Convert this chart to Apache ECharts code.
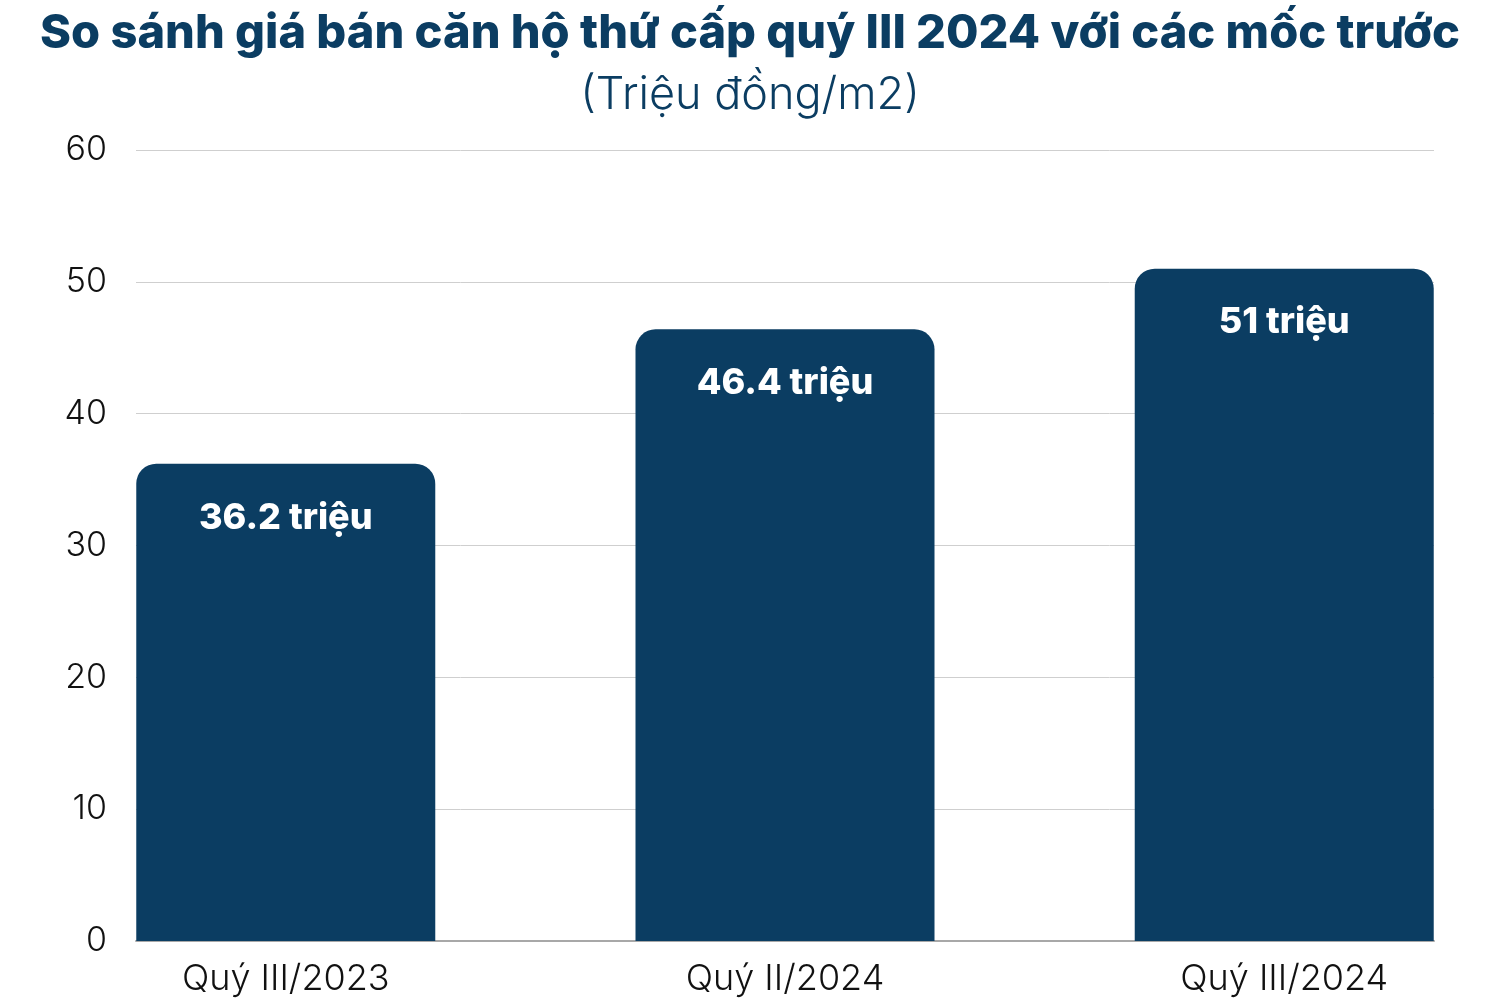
<!DOCTYPE html>
<html>
<head>
<meta charset="utf-8">
<script src="https://cdn.jsdelivr.net/npm/echarts@6/dist/echarts.min.js"></script>
<style>
  html, body { margin: 0; padding: 0; background: #fff; }
  #chart { width: 1500px; height: 1000px; }
</style>
</head>
<body>
<div id="chart"></div>
<script>
var categories = ['Quý III/2023', 'Quý II/2024', 'Quý III/2024'];
var prices = [36.2, 46.4, 51];
var priceLabels = ['36.2 triệu', '46.4 triệu', '51 triệu'];
var yTicks = [0, 10, 20, 30, 40, 50, 60];

var navy = '#0b3d62';
var chart = echarts.init(document.getElementById('chart'));

// bars sit on positions 0,1,2 of a value axis so the outer bars touch the grid edges
var barData = prices.map(function (v, i) { return [i, v]; });

var option = {
    animation: false,
    textStyle: { fontFamily: 'Inter' },
    title: {
        text: 'So sánh giá bán căn hộ thứ cấp quý III 2024 với các mốc trước',
        subtext: '(Triệu đồng/m2)',
        left: 'center',
        top: 5,
        itemGap: 16,
        textStyle: { color: navy, fontSize: 47, fontWeight: 800, fontFamily: 'Inter' },
        subtextStyle: { color: navy, fontSize: 45, fontWeight: 300, fontFamily: 'Inter' }
    },
    grid: { left: 136, right: 66, top: 150, bottom: 59, containLabel: false },
    xAxis: {
        type: 'value',
        min: -0.3,
        max: 2.3,
        splitLine: { show: false },
        axisTick: { show: false },
        axisLine: { show: true, lineStyle: { color: '#a8a8a8', width: 2 } },
        axisLabel: {
            customValues: [0, 1, 2],
            formatter: function (v) { return categories[Math.round(v)]; },
            color: '#111',
            fontSize: 36,
            fontWeight: 300,
            margin: 20
        }
    },
    yAxis: {
        type: 'value',
        min: yTicks[0],
        max: yTicks[yTicks.length - 1],
        interval: 10,
        axisLine: { show: false },
        axisTick: { show: false },
        splitLine: { lineStyle: { color: '#cfcfcf', width: 1 } },
        axisLabel: { color: '#111', fontSize: 34, fontWeight: 300, margin: 29 }
    },
    series: [{
        type: 'bar',
        data: barData,
        barWidth: 299,
        itemStyle: { color: navy, borderRadius: [20, 20, 0, 0] },
        label: {
            show: true,
            position: 'insideTop',
            distance: 36,
            color: '#fff',
            fontSize: 36,
            fontWeight: 800,
            fontFamily: 'Inter',
            formatter: function (p) { return priceLabels[p.dataIndex]; }
        }
    }]
};
chart.setOption(option);
</script>
</body>
</html>
